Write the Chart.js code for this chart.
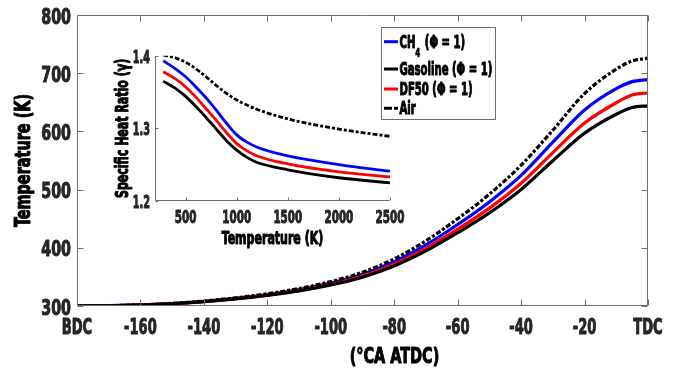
<!DOCTYPE html>
<html><head><meta charset="utf-8">
<script src="https://cdn.jsdelivr.net/npm/chart.js@4.4.1/dist/chart.umd.min.js"></script>
<style>
html,body{margin:0;padding:0;background:#fff;}
#wrap{position:relative;width:678px;height:368px;overflow:hidden;}
#main{position:absolute;left:0;top:0;}
#inset{position:absolute;left:100px;top:40px;}
</style></head><body>
<div id="wrap">
<canvas id="main" width="678" height="368"></canvas>
<canvas id="inset" width="310" height="225"></canvas>
</div>
<script>
// ---- main chart data: in-cylinder temperature vs crank angle ----
const crankAngle   = [-180,-170,-160,-150,-140,-130,-120,-110,-100,-90,-80,-70,-60,-50,-40,-30,-20,-10,-5,0];
const tempCH4      = [300,300.5,301.9,304.3,308.0,313.2,319.8,328.3,339.5,354.5,376.0,404.9,440.0,478.8,524.4,581.5,636.9,673.5,685.5,689];
const tempGasoline = [300,300.4,301.7,303.9,307.3,312.1,318.1,325.8,336.0,349.5,368.8,394.6,425.9,460.0,500.2,549.6,597.0,629.5,641,644];
const tempDF50     = [300,300.4,301.8,304.0,307.6,312.6,318.8,326.9,337.5,351.7,372.0,399.1,432.1,468.2,511.0,563.6,614.4,649.2,662.5,666];
const tempAir      = [300,300.5,302,304.5,308.5,314,321,330,342,358,381,412,450,492,542,602,665,707,721,726];
const xTickValues  = [-180,-160,-140,-120,-100,-80,-60,-40,-20,0];
const xTickLabels  = ['BDC','-160','-140','-120','-100','-80','-60','-40','-20','TDC'];
const yTickValues  = [300,400,500,600,700,800];
const yTickLabels  = ['300','400','500','600','700','800'];
const seriesNames  = ['CH4','Gasoline','DF50','Air'];
const mainXTitle   = '(\u00B0CA ATDC)';
const mainYTitle   = 'Temperature (K)';

// ---- inset data: specific heat ratio vs temperature ----
const insetTemp     = [280,400,500,600,700,800,900,1000,1100,1200,1500,2000,2500];
const gammaCH4      = [1.393,1.382,1.371,1.357,1.342,1.325,1.307,1.291,1.281,1.274,1.262,1.250,1.241];
const gammaGasoline = [1.365,1.355,1.344,1.330,1.315,1.299,1.283,1.270,1.260,1.253,1.243,1.232,1.225];
const gammaDF50     = [1.378,1.368,1.357,1.343,1.327,1.311,1.294,1.279,1.269,1.262,1.251,1.240,1.233];
const gammaAir      = [1.401,1.397,1.391,1.382,1.371,1.359,1.348,1.339,1.332,1.326,1.313,1.299,1.289];
const insetXTicks   = [500,1000,1500,2000,2500];
const insetXLabels  = ['500','1000','1500','2000','2500'];
const insetYTicks   = [1.2,1.3,1.4];
const insetYLabels  = ['1.2','1.3','1.4'];
const insetXTitle   = 'Temperature (K)';
const insetYTitle   = 'Specific Heat Ratio (\u03B3)';

const legendLabels = [
  [['CH', 0], ['4', 1], [' (\u03A6 = 1)', 0]],
  [['Gasoline (\u03A6 = 1)', 0]],
  [['DF50 (\u03A6 = 1)', 0]],
  [['Air', 0]]
];

const FF = "'DejaVu Sans Condensed','DejaVu Sans',sans-serif";
const TXT = '#262626';
const AXC = '#6e6e6e';
const AIR_DASH = [5,2,3,2];

function cText(ctx, text, x, y, size, align, sx, rot, color) {
  ctx.save();
  ctx.translate(x, y);
  if (rot) ctx.rotate(rot);
  ctx.scale(sx, 1);
  ctx.font = 'bold ' + size + 'px ' + FF;
  ctx.textAlign = align; ctx.textBaseline = 'alphabetic';
  ctx.fillStyle = color || TXT;
  ctx.strokeStyle = color || TXT;
  ctx.lineWidth = size > 15 ? 1.0 : 0.7;
  ctx.lineJoin = 'round';
  ctx.fillText(text, 0, 0);
  ctx.strokeText(text, 0, 0);
  ctx.restore();
}

const axesBox = {
  id: 'axesBox',
  afterDraw(chart, args, o) {
    const {ctx, chartArea: a} = chart;
    const x = chart.scales.x, y = chart.scales.y;
    const L = Math.round(a.left) + 0.5, R = Math.round(a.right) - 0.5;
    const T = Math.round(a.top) + 0.5, B = Math.round(a.bottom) - 0.5;
    ctx.save();
    ctx.strokeStyle = o.color; ctx.lineWidth = 1; ctx.setLineDash([]);
    ctx.beginPath();
    ctx.moveTo(L, T); ctx.lineTo(L, B); ctx.lineTo(R, B);
    if (o.mirror) { ctx.lineTo(R, T); ctx.lineTo(L, T); }
    for (const t of x.ticks) {
      const p = Math.round(x.getPixelForValue(t.value)) + 0.5;
      ctx.moveTo(p, B); ctx.lineTo(p, B - o.len);
      if (o.mirror) { ctx.moveTo(p, T); ctx.lineTo(p, T + o.len); }
    }
    for (const t of y.ticks) {
      const p = Math.round(y.getPixelForValue(t.value)) + 0.5;
      ctx.moveTo(L, p); ctx.lineTo(L + o.len, p);
      if (o.mirror) { ctx.moveTo(R, p); ctx.lineTo(R - o.len, p); }
    }
    ctx.stroke();
    ctx.restore();

    // tick labels and titles (condensed bold text)
    const L2 = o.labels;
    x.ticks.forEach((t, i) => {
      cText(ctx, L2.xLabels[i], x.getPixelForValue(t.value), L2.xBase, L2.xSize, 'center', L2.xSx);
    });
    y.ticks.forEach((t, i) => {
      cText(ctx, L2.yLabels[i], L2.yRight, y.getPixelForValue(t.value) + L2.yOff, L2.ySize, 'right', L2.ySx);
    });
    cText(ctx, L2.xTitle, (a.left + a.right) / 2 + L2.xTitleShift, L2.xTitleBase, L2.xTitleSize, 'center', L2.titleSx, 0, '#000');
    cText(ctx, L2.yTitle, L2.yTitleBase, (a.top + a.bottom) / 2, L2.yTitleSize, 'center', L2.titleSx, -Math.PI / 2, '#000');
  }
};

const legendPlugin = {
  id: 'boxLegend',
  afterDraw(chart) {
    const ctx = chart.ctx;
    const ds = chart.data.datasets;
    const bx = 381.5, by = 27.5, bw = 114, bh = 92;
    ctx.save();
    ctx.fillStyle = '#fff'; ctx.fillRect(bx, by, bw, bh);
    ctx.strokeStyle = AXC; ctx.lineWidth = 1; ctx.strokeRect(bx, by, bw, bh);
    const rows = [41.7, 69, 89, 108.3];
    const sx = 0.66;
    ds.forEach((d, i) => {
      const yy = rows[i];
      ctx.strokeStyle = d.borderColor; ctx.lineWidth = 3;
      ctx.setLineDash(d.borderDash && d.borderDash.length ? [8,2,4,2] : []);
      ctx.beginPath(); ctx.moveTo(384, yy); ctx.lineTo(398, yy); ctx.stroke();
      ctx.setLineDash([]);
      let tx = 399.5;
      for (const [s, sub] of legendLabels[i]) {
        const size = sub ? 12 : 17;
        ctx.font = 'bold ' + size + 'px ' + FF;
        const w = ctx.measureText(s).width * sx;
        cText(ctx, s, tx, sub ? yy + 15 : yy + 6, size, 'left', sx, 0, '#000');
        tx += w + (sub ? 1 : 0);
      }
    });
    ctx.restore();
  }
};

function mkSeries(label, data, color, dash, order, xs, lw) {
  return {
    label, data: data.map((v, i) => ({x: xs[i], y: v})),
    borderColor: color, backgroundColor: color, borderWidth: lw,
    borderDash: dash, pointRadius: 0, cubicInterpolationMode: 'monotone',
    fill: false, order, borderCapStyle: 'butt'
  };
}

new Chart(document.getElementById('main'), {
  type: 'line',
  data: {
    datasets: [
      mkSeries(seriesNames[0], tempCH4, '#0000ff', [], 3, crankAngle, 3.2),
      mkSeries(seriesNames[1], tempGasoline, '#000000', [], 1, crankAngle, 3.2),
      mkSeries(seriesNames[2], tempDF50, '#ff0000', [], 2, crankAngle, 3.2),
      mkSeries(seriesNames[3], tempAir, '#000000', AIR_DASH, 0, crankAngle, 3.2)
    ]
  },
  options: {
    responsive: false, animation: false, devicePixelRatio: 1,
    layout: {padding: {left: 0, right: 30, top: 15, bottom: 0}},
    plugins: {legend: {display: false}, tooltip: {enabled: false},
      axesBox: {color: AXC, len: 6, mirror: true, labels: {
        xLabels: xTickLabels, xBase: 334, xSize: 22, xSx: 0.66,
        yLabels: yTickLabels, yRight: 71, yOff: 8.5, ySize: 22, ySx: 0.72,
        xTitle: mainXTitle, xTitleShift: 32, xTitleBase: 362.5, xTitleSize: 22,
        yTitle: mainYTitle, yTitleBase: 30, yTitleSize: 22, titleSx: 0.73
      }}},
    scales: {
      x: {
        type: 'linear', min: -180, max: 0,
        afterBuildTicks: s => { s.ticks = xTickValues.map(v => ({value: v})); },
        afterFit: s => { s.height = 62; },
        grid: {display: false, drawTicks: false}, border: {display: false},
        ticks: {display: false}
      },
      y: {
        type: 'linear', min: 300, max: 800,
        afterBuildTicks: s => { s.ticks = yTickValues.map(v => ({value: v})); },
        afterFit: s => { s.width = 77; },
        grid: {display: false, drawTicks: false}, border: {display: false},
        ticks: {display: false}
      }
    }
  },
  plugins: [axesBox, legendPlugin]
});

new Chart(document.getElementById('inset'), {
  type: 'line',
  data: {
    datasets: [
      mkSeries(seriesNames[0], gammaCH4, '#0000ff', [], 3, insetTemp, 2.8),
      mkSeries(seriesNames[1], gammaGasoline, '#000000', [], 1, insetTemp, 2.8),
      mkSeries(seriesNames[2], gammaDF50, '#ff0000', [], 2, insetTemp, 2.8),
      mkSeries(seriesNames[3], gammaAir, '#000000', AIR_DASH, 0, insetTemp, 2.8)
    ]
  },
  options: {
    responsive: false, animation: false, devicePixelRatio: 1,
    layout: {padding: {left: 0, right: 20, top: 15.7, bottom: 0}},
    plugins: {legend: {display: false}, tooltip: {enabled: false},
      axesBox: {color: AXC, len: 3, mirror: false, labels: {
        xLabels: insetXLabels, xBase: 183.3, xSize: 18, xSx: 0.64,
        yLabels: insetYLabels, yRight: 50, yOff: 7, ySize: 18, ySx: 0.6,
        xTitle: insetXTitle, xTitleShift: 0, xTitleBase: 203.5, xTitleSize: 17,
        yTitle: insetYTitle, yTitleBase: 28, yTitleSize: 17, titleSx: 0.72
      }}},
    scales: {
      x: {
        type: 'linear', min: 200, max: 2500,
        afterBuildTicks: s => { s.ticks = insetXTicks.map(v => ({value: v})); },
        afterFit: s => { s.height = 64; },
        grid: {display: false, drawTicks: false}, border: {display: false},
        ticks: {display: false}
      },
      y: {
        type: 'linear', min: 1.2, max: 1.4,
        afterBuildTicks: s => { s.ticks = insetYTicks.map(v => ({value: v})); },
        afterFit: s => { s.width = 55; },
        grid: {display: false, drawTicks: false}, border: {display: false},
        ticks: {display: false}
      }
    }
  },
  plugins: [axesBox]
});
</script>
</body></html>
